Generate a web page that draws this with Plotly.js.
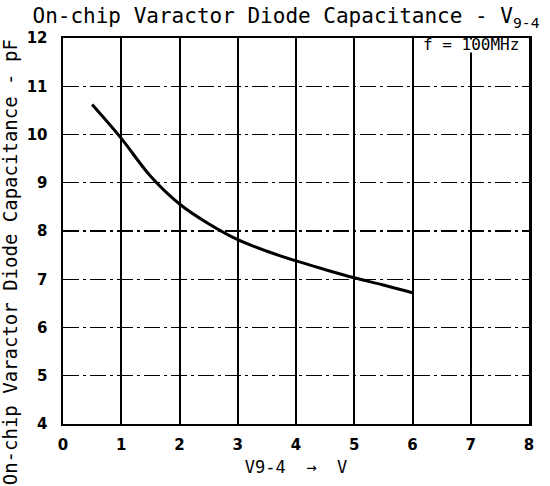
<!DOCTYPE html>
<html>
<head>
<meta charset="utf-8">
<script src="https://cdn.plot.ly/plotly-3.0.1.min.js"></script>
<style>html,body{margin:0;padding:0;background:#fff;}#chart{width:550px;height:486px;}</style>
</head>
<body>
<div id="chart"></div>
<script>
// Data
const voltage = [0.5, 1.0, 1.5, 2.0, 2.5, 3.0, 3.5, 4.0, 4.5, 5.0, 5.5, 6.0];
const capacitance = [10.62, 9.92, 9.14, 8.56, 8.15, 7.82, 7.58, 7.38, 7.20, 7.03, 6.88, 6.72];
const xTicks = [0, 1, 2, 3, 4, 5, 6, 7, 8];
const yTicks = [4, 5, 6, 7, 8, 9, 10, 11, 12];
const chartTitle = "On-chip Varactor Diode Capacitance - V<sub>9-4</sub>";
const yTitle = "On-chip Varactor Diode Capacitance - pF";
const xTitle = "V9-4  \u2192  V";
const noteText = "f = 100MHz";

const mono = "DejaVu Sans Mono";

const trace = {
  x: voltage, y: capacitance, type: "scatter", mode: "lines",
  line: {color: "#000", width: 3, shape: "spline", smoothing: 1.0},
  hoverinfo: "skip"
};

const layout = {
  width: 550, height: 486,
  margin: {l: 63, r: 21, t: 38, b: 62},
  paper_bgcolor: "#fff", plot_bgcolor: "#fff",
  showlegend: false,
  title: {
    text: chartTitle, font: {family: mono, size: 21, color: "#000"},
    xref: "container", x: 0.52, xanchor: "center",
    yref: "container", y: 0.982, yanchor: "top", pad: {t: 0, b: 0}
  },
  xaxis: {
    range: [0, 8], tickvals: xTicks, ticktext: xTicks.map(String),
    showgrid: true, gridcolor: "#000", gridwidth: 2,
    zeroline: false, showline: true, linecolor: "#000", linewidth: 2, mirror: true,
    ticks: "", ticklabelstandoff: 6,
    tickfont: {family: "DejaVu Sans", size: 15, color: "#000", weight: "bold"},
    title: {text: xTitle, font: {family: mono, size: 17, color: "#000"}, standoff: 8}
  },
  yaxis: {
    range: [4, 12], tickvals: yTicks, ticktext: yTicks.map(String),
    showgrid: true, gridcolor: "#000", gridwidth: 1.3, griddash: "16px,4px,3px,4px",
    zeroline: false, showline: true, linecolor: "#000", linewidth: 2.5, mirror: true,
    ticks: "", ticklabelstandoff: 10,
    tickfont: {family: "DejaVu Sans", size: 15, color: "#000", weight: "bold"}
  },
  shapes: [
    {type: "rect", xref: "x", yref: "y", x0: 6.03, x1: 7.97, y0: 11.7, y1: 11.97,
     fillcolor: "#fff", line: {width: 0}, layer: "above"}
  ],
  annotations: [
    {text: noteText, xref: "x", yref: "y", x: 7.0, y: 11.86, showarrow: false,
     font: {family: mono, size: 16, color: "#000"}, xanchor: "center", yanchor: "middle"},
    {text: yTitle, xref: "paper", yref: "paper", x: -0.115, y: 0.42,
     xanchor: "center", yanchor: "middle", textangle: -90, showarrow: false,
     font: {family: mono, size: 19, color: "#000"}}
  ]
};

Plotly.newPlot("chart", [trace], layout, {displayModeBar: false, staticPlot: true});
</script>
</body>
</html>
